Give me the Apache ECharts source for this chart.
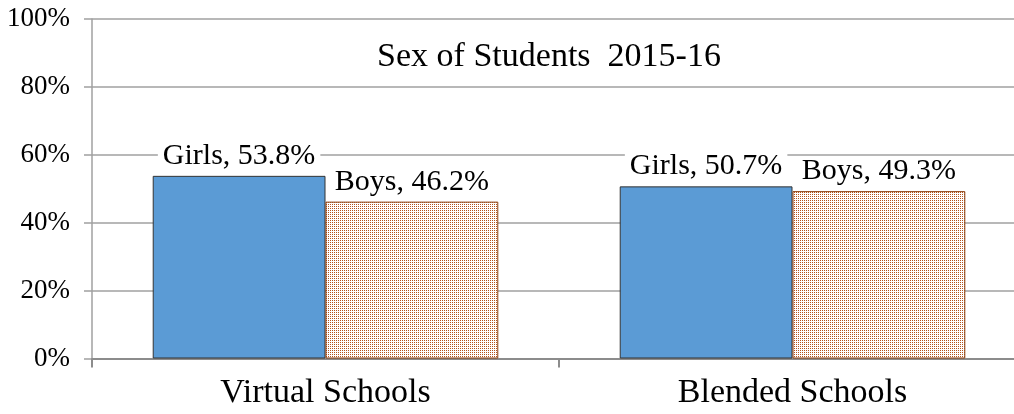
<!DOCTYPE html>
<html lang="en">
  <head>
    <meta charset="UTF-8" />
    <title>Sex of Students 2015-16</title>
    <script src="https://cdn.jsdelivr.net/npm/echarts@6/dist/echarts.min.js"></script>
    <style>
      html, body { margin: 0; padding: 0; background: #fff; }
      .echarts { width: 1014px; height: 414px; }
    </style>
  </head>
  <body>
    <div class="echarts"></div>
    <script>
      const categories = ['Virtual Schools', 'Blended Schools']
      const girls = [53.8, 50.7]
      const boys = [46.2, 49.3]
      const yTicks = [0, 20, 40, 60, 80, 100]

      const serif = "'Liberation Serif', 'Times New Roman', serif"

      // small dotted pattern for the boys bars
      const dots = document.createElement('canvas')
      dots.width = 2
      dots.height = 2
      const ctx = dots.getContext('2d')
      ctx.fillStyle = '#ffffff'
      ctx.fillRect(0, 0, 2, 2)
      ctx.fillStyle = '#b4531c'
      ctx.fillRect(0, 0, 1, 1)

      const label = {
        show: true,
        position: 'top',
        distance: 5,
        formatter: '{a}, {c}%',
        fontFamily: serif,
        fontSize: 30,
        color: '#000',
        backgroundColor: '#fff',
        padding: [0, 5]
      }

      const myCharts = echarts.init(document.querySelector('.echarts'))

      const option = {
        animation: false,
        grid: { left: 92, right: -12, top: 19, bottom: 55.5, outerBoundsMode: 'none', containLabel: false },
        title: {
          text: 'Sex of Students  2015-16',
          left: 544,
          top: 35,
          textAlign: 'center',
          textStyle: { fontFamily: serif, fontSize: 34, fontWeight: 'normal', color: '#000' }
        },
        xAxis: {
          type: 'category',
          data: categories,
          axisLine: { lineStyle: { color: '#8c8c8c', width: 2 } },
          axisTick: { show: true, length: 9, lineStyle: { color: '#8c8c8c', width: 2 } },
          axisLabel: { fontFamily: serif, fontSize: 34, color: '#000', margin: 18 }
        },
        yAxis: {
          type: 'value',
          min: 0,
          max: 100,
          interval: 20,
          axisLine: { show: true, lineStyle: { color: '#a0a0a0', width: 1.5 } },
          axisTick: { show: true, length: 8, lineStyle: { color: '#a0a0a0', width: 1.5 } },
          splitLine: { lineStyle: { color: '#a0a0a0', width: 1.5 } },
          axisLabel: {
            fontFamily: serif,
            fontSize: 27,
            color: '#000',
            margin: 22,
            formatter: v => (yTicks.includes(v) ? v + '%' : '')
          }
        },
        series: [
          {
            type: 'bar',
            name: 'Girls',
            data: girls,
            barGap: '0%',
            barCategoryGap: '26%',
            itemStyle: { color: '#5b9bd5', borderColor: '#333', borderWidth: 1 },
            label: label
          },
          {
            type: 'bar',
            name: 'Boys',
            data: boys,
            itemStyle: {
              color: { image: dots, repeat: 'repeat' },
              borderColor: '#8a3c0c',
              borderWidth: 1
            },
            label: label
          }
        ]
      }
      myCharts.setOption(option)
    </script>
  </body>
</html>
